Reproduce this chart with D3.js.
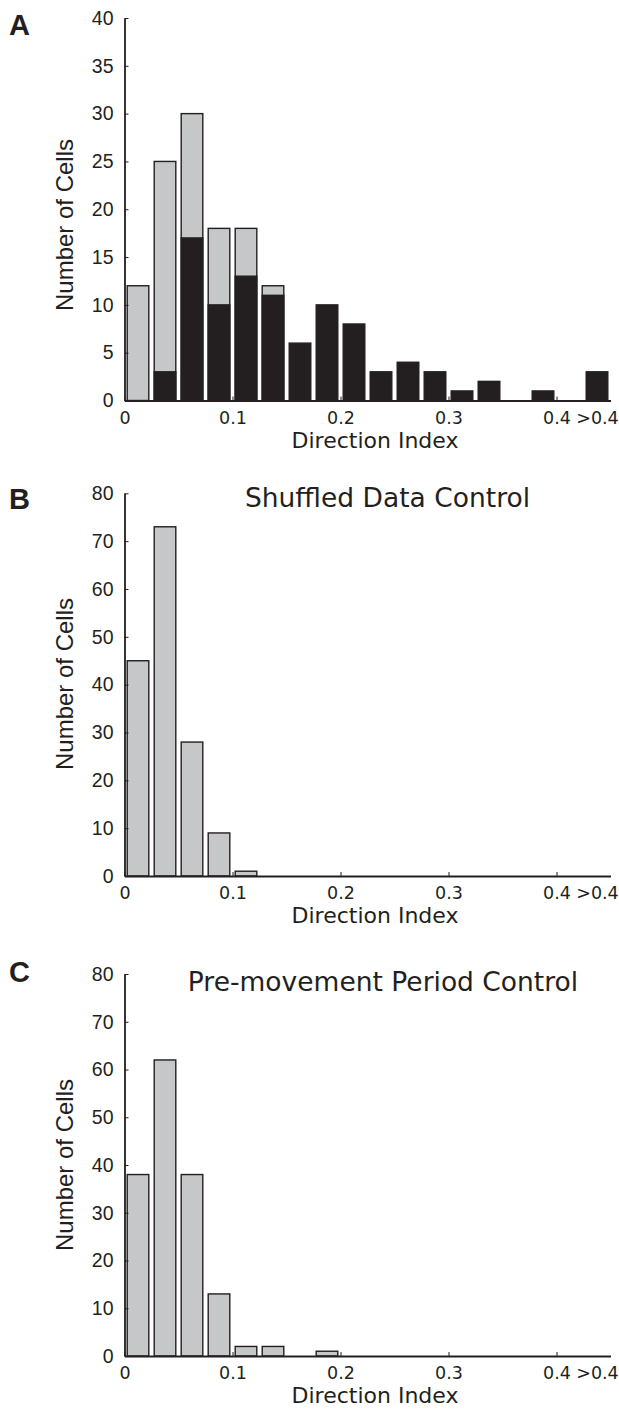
<!DOCTYPE html>
<html>
<head>
<meta charset="utf-8">
<script src="https://d3js.org/d3.v7.min.js"></script>
<style>
body { margin: 0; background: #fff; }
svg { display: block; }
.tick text { fill: #231f20; }
</style>
</head>
<body>
<svg width="619" height="1409"></svg>
<script>
// bin lower edges (direction index), last bin is the ">0.4" overflow bin
var binStart = [0, 0.025, 0.05, 0.075, 0.1, 0.125, 0.15, 0.175, 0.2, 0.225,
                0.25, 0.275, 0.3, 0.325, 0.35, 0.375, 0.4, 0.425];
var binWidth = 0.025;

// panel A: light bars behind, dark bars in front
var countsA_light = [12, 25, 30, 18, 18, 12, 0, 0, 0, 0, 0, 0, 0, 0, 0, 0, 0, 0];
var countsA_dark  = [0, 3, 17, 10, 13, 11, 6, 10, 8, 3, 4, 3, 1, 2, 0, 1, 0, 3];
// panel B: shuffled data control
var countsB = [45, 73, 28, 9, 1, 0, 0, 0, 0, 0, 0, 0, 0, 0, 0, 0, 0, 0];
// panel C: pre-movement period control
var countsC = [38, 62, 38, 13, 2, 2, 0, 1, 0, 0, 0, 0, 0, 0, 0, 0, 0, 0];

var xTicks = [0, 0.1, 0.2, 0.3, 0.4, 0.4375];
var xTickLabels = ["0", "0.1", "0.2", "0.3", "0.4", ">0.4"];
var yTicksA = [0, 5, 10, 15, 20, 25, 30, 35, 40];
var yTicksBC = [0, 10, 20, 30, 40, 50, 60, 70, 80];

var ink = "#231f20";
var light = "#c6c7c8";

var svg = d3.select("svg");
svg.append("rect").attr("width", 619).attr("height", 1409).attr("fill", "#fff");

var x = d3.scaleLinear().domain([0, 0.45]).range([124.5, 610.5]);

function drawPanel(opts) {
  var g = svg.append("g");
  var y = d3.scaleLinear().domain([0, opts.yMax]).range([opts.bottom, opts.top]);

  opts.series.forEach(function (s) {
    var data = binStart.map(function (b, i) { return {b: b, v: s.values[i]}; });
    g.selectAll(null).data(data).enter().append("rect")
      .attr("x", function (d) { return x(d.b + binWidth * 0.1); })
      .attr("width", x(binWidth * 0.8) - x(0))
      .attr("y", function (d) { return y(d.v); })
      .attr("height", function (d) { return y(0) - y(d.v); })
      .attr("fill", s.fill)
      .attr("stroke", ink)
      .attr("stroke-width", 1.4);
  });

  // x axis, ticks point inward
  var xAxis = d3.axisBottom(x)
    .tickValues(xTicks)
    .tickFormat(function (d, i) { return xTickLabels[i]; })
    .tickSizeInner(-4).tickSizeOuter(0).tickPadding(8);
  var gx = g.append("g").attr("transform", "translate(0," + opts.bottom + ")").call(xAxis);
  gx.select(".domain").attr("stroke", ink).attr("stroke-width", 1.8);
  gx.selectAll(".tick line").attr("stroke", ink).attr("stroke-width", 1)
    .filter(function (d) { return d > 0.41; }).remove();
  gx.selectAll(".tick text")
    .attr("font-family", "'DejaVu Sans', sans-serif").attr("font-size", 17.5)
    .attr("y", 23).attr("dy", 0);

  // y axis
  var yAxis = d3.axisLeft(y)
    .tickValues(opts.yTicks)
    .tickSizeInner(-4).tickSizeOuter(0).tickPadding(11);
  var gy = g.append("g").attr("transform", "translate(124.5,0)").call(yAxis);
  gy.select(".domain").attr("stroke", ink).attr("stroke-width", 1.8);
  gy.selectAll(".tick line").attr("stroke", ink).attr("stroke-width", 1);
  gy.selectAll(".tick text")
    .attr("font-family", "'Liberation Sans', Arial, sans-serif").attr("font-size", 19.5);

  g.append("text")
    .attr("x", 375).attr("y", opts.bottom + 47)
    .attr("text-anchor", "middle")
    .attr("font-family", "'DejaVu Sans', sans-serif").attr("font-size", 22)
    .attr("fill", ink)
    .text("Direction Index");

  g.append("text")
    .attr("transform", "translate(73," + opts.labelY + ") rotate(-90)")
    .attr("text-anchor", "middle")
    .attr("font-family", "'Liberation Sans', Arial, sans-serif").attr("font-size", 24)
    .attr("fill", ink)
    .text("Number of Cells");

  g.append("text")
    .attr("x", 9).attr("y", opts.letterY)
    .attr("font-family", "'Liberation Sans', Arial, sans-serif").attr("font-size", 29)
    .attr("font-weight", "bold").attr("fill", ink)
    .text(opts.letter);

  if (opts.title) {
    g.append("text")
      .attr("x", opts.titleX).attr("y", opts.titleY)
      .attr("text-anchor", "middle")
      .attr("font-family", "'DejaVu Sans', sans-serif").attr("font-size", 26.5)
      .attr("fill", ink)
      .text(opts.title);
  }
}

drawPanel({
  top: 18, bottom: 400.5, yMax: 40, yTicks: yTicksA,
  series: [{values: countsA_light, fill: light}, {values: countsA_dark, fill: ink}],
  letter: "A", letterY: 35, labelY: 225
});

drawPanel({
  top: 493.3, bottom: 876, yMax: 80, yTicks: yTicksBC,
  series: [{values: countsB, fill: light}],
  letter: "B", letterY: 509, labelY: 684,
  title: "Shuffled Data Control", titleX: 387.5, titleY: 507
});

drawPanel({
  top: 974, bottom: 1356, yMax: 80, yTicks: yTicksBC,
  series: [{values: countsC, fill: light}],
  letter: "C", letterY: 982, labelY: 1165,
  title: "Pre-movement Period Control", titleX: 383, titleY: 991
});
</script>
</body>
</html>
